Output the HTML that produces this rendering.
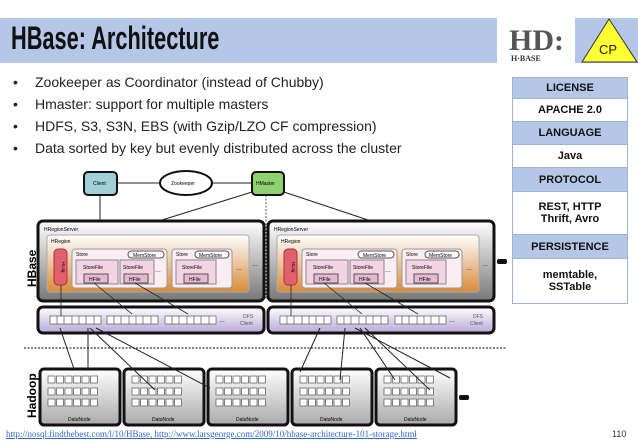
<!DOCTYPE html>
<html><head><meta charset="utf-8"><style>
body{margin:0;width:638px;height:442px;overflow:hidden;background:#fff;font-family:"Liberation Sans",sans-serif;position:relative}
.bar{position:absolute;left:0;top:18px;width:497px;height:45px;background:#b4c7e7}
.title{position:absolute;left:11px;top:20px;font-size:32px;font-weight:bold;color:#111;transform:scaleX(0.68);transform-origin:left top;white-space:nowrap}
.blue2{position:absolute;left:575px;top:18px;width:63px;height:45px;background:#b4c7e7}
ul{position:absolute;left:0;top:71px;margin:0;padding:0;list-style:none;color:#222}
ul li{height:22px;line-height:22px;padding-left:35px;position:relative;white-space:nowrap;font-family:"Liberation Sans",sans-serif;font-size:14px}
ul li:before{content:"•";position:absolute;left:13px}
table{position:absolute;left:512px;top:77px;width:116px;border-collapse:collapse;font-weight:bold;font-size:11px;color:#111;text-align:center}
td{border:1px solid #9db3d6;padding:0}
.h{background:#b4c7e7}
.foot{position:absolute;left:6px;top:429px;font-family:"Liberation Serif",serif;font-size:9px;color:#3366cc;text-decoration:underline;white-space:nowrap}
.pg{position:absolute;left:612px;top:429px;font-size:9px;color:#333}
</style></head><body>
<div class="bar"></div><div class="title">HBase: Architecture</div>
<svg style="position:absolute;left:497px;top:18px" width="78" height="47">
<text x="12" y="32" font-family="Liberation Serif" font-size="30" fill="#555" font-weight="bold">HD:</text>
<text x="14" y="43" font-family="Liberation Serif" font-size="8" fill="#333" font-weight="bold">H·BASE</text></svg>
<div class="blue2"></div>
<svg style="position:absolute;left:575px;top:18px" width="63" height="46"><polygon points="34,1 7,44 62,44" fill="#ffff33" stroke="#333"/><text x="24" y="36" font-size="13" fill="#222">CP</text></svg>
<ul><li>Zookeeper as Coordinator (instead of Chubby)</li><li>Hmaster: support for multiple masters</li><li>HDFS, S3, S3N, EBS (with Gzip/LZO CF compression)</li><li>Data sorted by key but evenly distributed across the cluster</li></ul>
<table>
<tr><td class="h" style="height:20px">LICENSE</td></tr>
<tr><td style="height:22px">APACHE 2.0</td></tr>
<tr><td class="h" style="height:22px">LANGUAGE</td></tr>
<tr><td style="height:22px">Java</td></tr>
<tr><td class="h" style="height:23px">PROTOCOL</td></tr>
<tr><td style="height:42px">REST, HTTP<br>Thrift, Avro</td></tr>
<tr><td class="h" style="height:23px">PERSISTENCE</td></tr>
<tr><td style="height:44px">memtable,<br>SSTable</td></tr>
</table>
<svg style="position:absolute;left:0;top:0" width="638" height="442" font-family="Liberation Sans">
<defs>
<linearGradient id="g" x1="0" y1="0" x2="0" y2="1"><stop offset="0" stop-color="#fff"/><stop offset="1" stop-color="#777"/></linearGradient>
<linearGradient id="o" x1="0" y1="0" x2="0" y2="1"><stop offset="0" stop-color="#fff"/><stop offset="1" stop-color="#d98a3a"/></linearGradient>
<linearGradient id="p" x1="0" y1="0" x2="0" y2="1"><stop offset="0" stop-color="#fff"/><stop offset="1" stop-color="#b8a8d8"/></linearGradient>
<linearGradient id="d" x1="0" y1="0" x2="0" y2="1"><stop offset="0" stop-color="#fff"/><stop offset="1" stop-color="#aaa"/></linearGradient>
<g id="rs">
<rect x="38" y="221" width="226" height="80" rx="5" fill="url(#g)" stroke="#111" stroke-width="3"/>
<text x="44" y="231" font-size="5">HRegionServer</text>
<rect x="47" y="235" width="202" height="57" rx="3" fill="url(#o)" stroke="#aaa"/>
<text x="51" y="243" font-size="5">HRegion</text>
<rect x="54" y="249" width="13" height="36" rx="4" fill="#e06070" stroke="#a33"/>
<text x="62" y="267" font-size="4.5" transform="rotate(90 62 267)" text-anchor="middle">HLog</text>
<rect x="72" y="249" width="95" height="39" rx="3" fill="#fbeef2" stroke="#999"/>
<text x="76" y="256" font-size="5">Store</text><rect x="128" y="251" width="36" height="7" rx="3.5" fill="#fff" stroke="#555"/><text x="133" y="257" font-size="5">MemStore</text>
<rect x="76" y="260" width="42" height="24" fill="#f3d4e2" stroke="#888"/><text x="83" y="269" font-size="5">StoreFile</text><rect x="84" y="274" width="24" height="9" fill="#e8b8d0" stroke="#555"/><text x="89" y="281" font-size="5">HFile</text>
<rect x="120" y="260" width="34" height="24" fill="#f3d4e2" stroke="#888"/><text x="123" y="269" font-size="5">StoreFile</text><rect x="124" y="274" width="24" height="9" fill="#e8b8d0" stroke="#555"/><text x="129" y="281" font-size="5">HFile</text>
<text x="155" y="272" font-size="6">…</text>
<rect x="172" y="249" width="60" height="39" rx="3" fill="#fbeef2" stroke="#999"/>
<text x="176" y="256" font-size="5">Store</text><rect x="195" y="251" width="34" height="7" rx="3.5" fill="#fff" stroke="#555"/><text x="199" y="257" font-size="5">MemStore</text>
<rect x="176" y="260" width="40" height="24" fill="#f3d4e2" stroke="#888"/><text x="182" y="269" font-size="5">StoreFile</text><rect x="184" y="274" width="24" height="9" fill="#e8b8d0" stroke="#555"/><text x="189" y="281" font-size="5">HFile</text>
<text x="236" y="270" font-size="6">…</text><text x="252" y="266" font-size="6">…</text>
<rect x="38" y="307" width="226" height="26" rx="5" fill="url(#p)" stroke="#111" stroke-width="3"/>
<g fill="#fff" stroke="#555" stroke-width="0.7">
<rect x="50" y="316" width="51" height="8"/><rect x="107" y="316" width="51" height="8"/><rect x="165" y="316" width="51" height="8"/></g>
<path d="M57 316v8M64 316v8M72 316v8M79 316v8M86 316v8M94 316v8M114 316v8M121 316v8M129 316v8M136 316v8M143 316v8M151 316v8M172 316v8M179 316v8M187 316v8M194 316v8M201 316v8M209 316v8" stroke="#555" stroke-width="0.7"/>
<text x="219" y="322" font-size="6">…</text><text x="243" y="318" font-size="5" fill="#555">DFS</text><text x="240" y="325" font-size="5" fill="#555">Client</text>
<path d="M61 285V316M94 283L132 314M135 283L188 314" stroke="#222" stroke-width="0.8"/>
</g>
<g id="dn"><rect x="40" y="369" width="80" height="56" rx="4" fill="url(#d)" stroke="#111" stroke-width="3"/>
<g fill="#fff" stroke="#555" stroke-width="0.7">
<rect x="48" y="376" width="7" height="7"/><rect x="56.5" y="376" width="7" height="7"/><rect x="65" y="376" width="7" height="7"/><rect x="73.5" y="376" width="7" height="7"/><rect x="82" y="376" width="7" height="7"/><rect x="90.5" y="376" width="7" height="7"/>
<rect x="48" y="388" width="7" height="7"/><rect x="56.5" y="388" width="7" height="7"/><rect x="65" y="388" width="7" height="7"/><rect x="73.5" y="388" width="7" height="7"/><rect x="82" y="388" width="7" height="7"/><rect x="90.5" y="388" width="7" height="7"/>
<rect x="48" y="399" width="7" height="7"/><rect x="56.5" y="399" width="7" height="7"/><rect x="65" y="399" width="7" height="7"/><rect x="73.5" y="399" width="7" height="7"/><rect x="82" y="399" width="7" height="7"/><rect x="90.5" y="399" width="7" height="7"/></g>
<text x="68" y="421" font-size="5">DataNode</text></g>
</defs>
<use href="#rs"/><use href="#rs" x="230"/>
<use href="#dn"/><use href="#dn" x="84"/><use href="#dn" x="168"/><use href="#dn" x="252"/><use href="#dn" x="336"/>
<rect x="497" y="259" width="10" height="5" rx="2" fill="#111"/><rect x="459" y="395" width="10" height="5" rx="2" fill="#111"/>
<line x1="24" y1="348" x2="507" y2="348" stroke="#555" stroke-width="1.5" stroke-dasharray="2,1.5"/>
<line x1="266" y1="195" x2="266" y2="300" stroke="#555" stroke-dasharray="2,1.5"/>
<rect x="84" y="172" width="33" height="23" rx="4" fill="#9fd0d8" stroke="#111" stroke-width="2"/><text x="93" y="185" font-size="5">Client</text>
<ellipse cx="186" cy="183" rx="26" ry="12" fill="#fff" stroke="#111" stroke-width="2"/><text x="171" y="185" font-size="5">Zookeeper</text>
<rect x="252" y="172" width="32" height="23" rx="4" fill="#8fd070" stroke="#111" stroke-width="2"/><text x="256" y="185" font-size="5">HMaster</text>
<g stroke="#222" stroke-width="1" fill="none">
<path d="M117 183H160M252 183H212M100 195V220M252 192L162 220M284 192L368 220"/>
<path d="M60 328L74 369M88 328L88 369M90 328L155 390M96 328L210 388M320 328L300 372M345 328L340 380M360 328L395 380M365 328L430 390M355 328L450 378"/>
</g>
<text x="36" y="287" font-size="12" font-weight="bold" transform="rotate(-90 36 287)">HBase</text>
<text x="36" y="418" font-size="12" font-weight="bold" transform="rotate(-90 36 418)">Hadoop</text>
</svg>
<div class="foot">http://nosql.findthebest.com/l/10/HBase, http://www.larsgeorge.com/2009/10/hbase-architecture-101-storage.html</div>
<div class="pg">110</div>
</body></html>
